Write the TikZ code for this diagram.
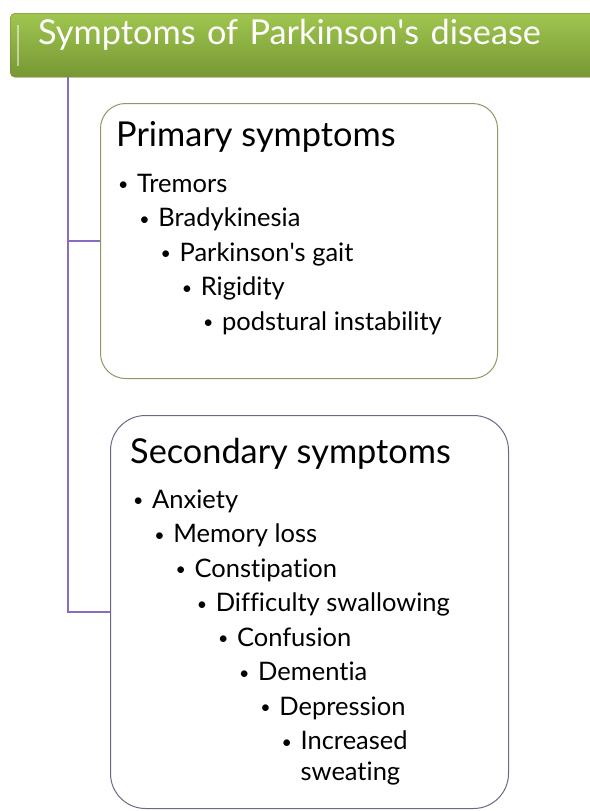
\documentclass[tikz,border=0pt]{standalone}
\usepackage{fontspec}
\setmainfont{Lato}[Ligatures={NoCommon}]
\usetikzlibrary{positioning}

\definecolor{leafgreen}{HTML}{A0C650}
\definecolor{darkleaf}{HTML}{779733}
\definecolor{olivegray}{HTML}{8A9C66}
\definecolor{plumgray}{HTML}{6F6787}
\definecolor{branchpurple}{HTML}{8A6BBE}

\newcommand{\sym}{\makebox[19pt][l]{\raisebox{1.5pt}{\scalebox{0.7}{\textbullet}}}}
\newcommand{\apos}{\textquotesingle}

\tikzset{
    header/.style={anchor=north west, rounded corners=5pt, top color=leafgreen,
        bottom color=darkleaf, draw=darkleaf!85!black, text=white,
        font=\fontsize{34.3}{38}\selectfont, minimum height=64pt,
        text width=544pt, inner xsep=28pt, inner ysep=8pt,
        text height=23pt, text depth=25pt, align=left},
    panel/.style={anchor=north west, draw=#1, line width=1pt, fill=white},
    heading/.style={anchor=base west, inner sep=0pt, font=\fontsize{34.3}{38}\selectfont},
    item/.style={anchor=base west, inner sep=0pt, font=\fontsize{25.5}{31}\selectfont},
    branch/.style={draw=branchpurple, line width=2pt},
}

\begin{document}
\begin{tikzpicture}[x=1pt, y=-1pt]
    \useasboundingbox (0,0) rectangle (589,811);

    % title bar
    \node[header] (title) at (10,13) {Symptoms of Parkinson\apos s disease};
    \draw[white, opacity=0.5, line width=1.5pt] (18,25) -- (18,66);

    % the two boxes
    \node[panel=olivegray, rounded corners=25pt, minimum width=397pt,
        minimum height=275pt] (prim) at (100,103) {};
    \node[panel=plumgray, rounded corners=35pt, minimum width=398pt,
        minimum height=393pt] (sec) at (110,415) {};

    % connectors
    \coordinate (root) at (68,77);
    \draw[branch] (root) |- (prim.west);
    \draw[branch] (root) |- (sec.west);

    % primary symptoms
    \node[heading] (primhead) at (116,146) {Primary symptoms};
    \foreach \t [count=\i] in {Tremors, Bradykinesia, Parkinson\apos s gait,
        Rigidity, podstural instability}
        \node[item] (p\i) at ({118+21.2*(\i-1)}, {192+34.5*(\i-1)}) {\sym\t};

    % secondary symptoms
    \node[heading] (sechead) at (130,463) {Secondary symptoms};
    \foreach \t [count=\i] in {Anxiety, Memory loss, Constipation,
        Difficulty swallowing, Confusion, Dementia, Depression,
        {\vtop{\hbox{Increased}\hbox{sweating}}}}
        \node[item] (s\i) at ({133+21.2*(\i-1)}, {508+34.5*(\i-1)}) {\sym\t};
\end{tikzpicture}
\end{document}
